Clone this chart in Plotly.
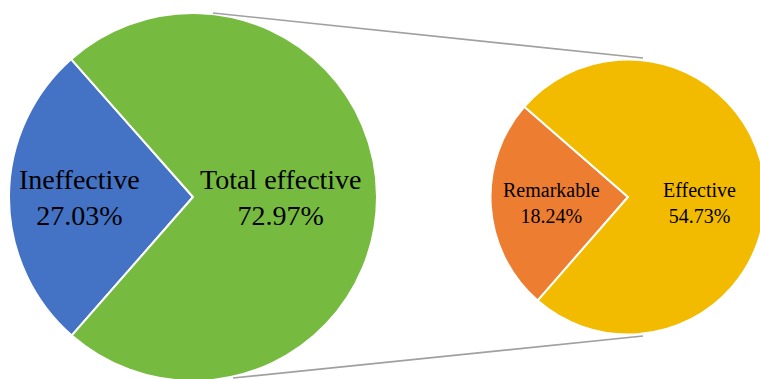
import plotly.graph_objects as go

# Main pie: overall outcome
main_labels = ["Ineffective", "Total effective"]
main_values = [27.03, 72.97]
main_colors = ["#4472C4", "#76BB40"]

# Secondary pie: breakdown of the effective share
sub_labels = ["Remarkable", "Effective"]
sub_values = [18.24, 54.73]
sub_colors = ["#ED7D31", "#F2BB00"]

W, H = 770, 385  # canvas slightly larger than the viewport so the pies bleed off the edges


def px_x(v):
    return v / W


def px_y(v):
    return 1 - v / H


fig = go.Figure()

fig.add_trace(go.Pie(
    labels=main_labels, values=main_values, sort=False,
    direction="counterclockwise", rotation=-138.8,
    marker=dict(colors=main_colors, line=dict(color="white", width=2)),
    textinfo="none", hoverinfo="label+value", showlegend=False,
    domain=dict(x=[px_x(9), px_x(377)], y=[px_y(381), px_y(13)]),
))

fig.add_trace(go.Pie(
    labels=sub_labels, values=sub_values, sort=False,
    direction="counterclockwise", rotation=-138.9,
    marker=dict(colors=sub_colors, line=dict(color="white", width=2)),
    textinfo="none", hoverinfo="label+value", showlegend=False,
    domain=dict(x=[px_x(490.5), px_x(765.5)], y=[px_y(334.5), px_y(59.5)]),
))

# Connector lines between the two pies
connectors = [((213, 13), (643, 58)), ((233, 378), (643, 336))]
for (x0, y0), (x1, y1) in connectors:
    fig.add_shape(type="line", xref="paper", yref="paper",
                  x0=px_x(x0), y0=px_y(y0), x1=px_x(x1), y1=px_y(y1),
                  line=dict(color="#A0A0A0", width=1.6))

# Slice labels
big_pos = [(79, 198), (281, 198)]
small_pos = [(551, 203), (699, 203)]
for lab, val, (x, y) in zip(main_labels, main_values, big_pos):
    fig.add_annotation(x=px_x(x), y=px_y(y), xref="paper", yref="paper",
                       text=f"{lab}<br>{val:.2f}%", showarrow=False,
                       xanchor="center", yanchor="middle",
                       font=dict(family="Liberation Serif", size=28, color="black"))
for lab, val, (x, y) in zip(sub_labels, sub_values, small_pos):
    fig.add_annotation(x=px_x(x), y=px_y(y), xref="paper", yref="paper",
                       text=f"{lab}<br>{val:.2f}%", showarrow=False,
                       xanchor="center", yanchor="middle",
                       font=dict(family="Liberation Serif", size=20, color="black"))

fig.update_layout(
    width=W, height=H,
    margin=dict(l=0, r=0, t=0, b=0),
    paper_bgcolor="white", plot_bgcolor="white",
)

fig.write_html("out.html", config={"displayModeBar": False},
               post_script="document.body.style.margin='0';document.body.style.overflow='hidden';")
